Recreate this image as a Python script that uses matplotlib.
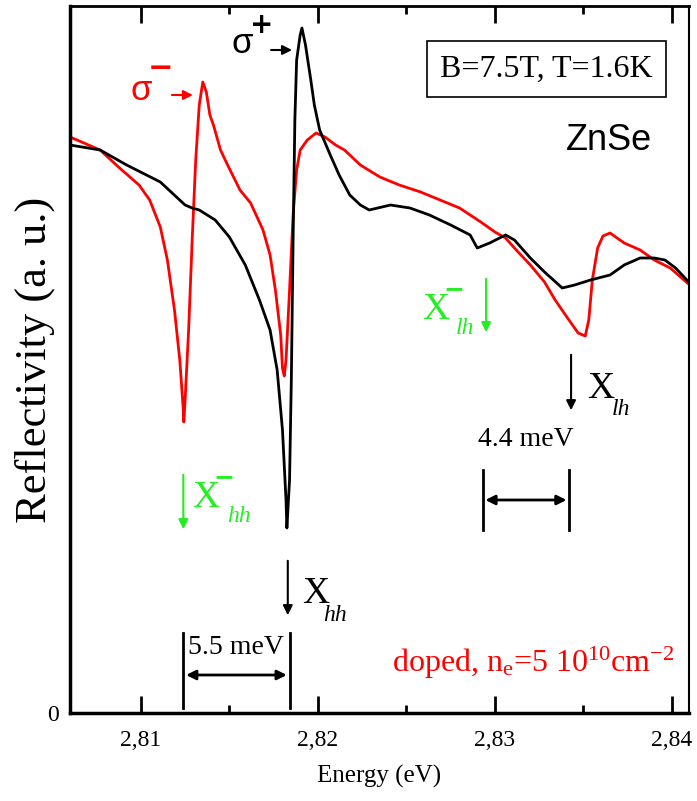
import matplotlib
matplotlib.use("Agg")
import matplotlib.pyplot as plt
from matplotlib.ticker import MultipleLocator

plt.rcParams["font.family"] = ["Liberation Serif", "DejaVu Serif"]
plt.rcParams["mathtext.fontset"] = "custom"
plt.rcParams["mathtext.rm"] = "Liberation Serif"
plt.rcParams["mathtext.it"] = "Liberation Serif:italic"

# sigma+ (black) spectrum, energy in eV, reflectivity in a.u.
e_plus = [2.8060, 2.8077, 2.8092, 2.8111, 2.8125, 2.8129, 2.8133, 2.8142, 2.8150,
          2.8159, 2.8167, 2.8173, 2.8177, 2.8180, 2.8182, 2.81825, 2.8184, 2.8185,
          2.8186, 2.8187, 2.8188, 2.8190, 2.8191, 2.8193, 2.8196, 2.8198, 2.8201,
          2.8207, 2.8212, 2.8218, 2.8224, 2.8229, 2.8241, 2.8252, 2.8263, 2.8275,
          2.8286, 2.8290, 2.8297, 2.8306, 2.8311, 2.8320, 2.8328, 2.8338, 2.8345,
          2.8354, 2.8365, 2.8373, 2.8382, 2.8390, 2.8396, 2.8402, 2.8410]
r_plus = [568, 563, 548, 531, 508, 505, 503, 493, 476,
          448, 413, 383, 343, 283, 213, 185, 233, 333,
          473, 593, 653, 678, 685, 668, 633, 608, 583,
          558, 538, 518, 508, 503, 508, 505, 498, 488,
          478, 465, 470, 478, 473, 455, 441, 425, 428,
          433, 438, 448, 455, 455, 453, 445, 430]

# sigma- (red) spectrum
e_minus = [2.8060, 2.8077, 2.8088, 2.8099, 2.8105, 2.8111, 2.8115, 2.8119, 2.8122,
           2.8124, 2.81243, 2.8125, 2.8127, 2.8129, 2.8131, 2.8133, 2.8135, 2.8137,
           2.8139, 2.8141, 2.8145, 2.8149, 2.8156, 2.8162, 2.8169, 2.8173, 2.8176,
           2.8179, 2.8180, 2.8181, 2.8182, 2.8184, 2.8186, 2.8188, 2.8190, 2.8194,
           2.8199, 2.8204, 2.8210, 2.8215, 2.8224, 2.8235, 2.8246, 2.8258, 2.8269,
           2.8280, 2.8292, 2.8300, 2.8306, 2.8311, 2.8320, 2.8328, 2.8334, 2.8341,
           2.8347, 2.8351, 2.8353, 2.8355, 2.8358, 2.8361, 2.8365, 2.8373, 2.8382,
           2.8390, 2.8399, 2.8410]
r_minus = [576, 563, 545, 528, 513, 486, 453, 403, 353,
           303, 291, 313, 383, 473, 553, 608, 631, 621,
           598, 588, 563, 548, 523, 510, 483, 458, 423,
           378, 345, 337, 353, 423, 498, 543, 563, 573,
           580, 576, 568, 563, 548, 536, 528, 521, 513,
           505, 491, 481, 475, 465, 448, 431, 413, 395,
           380, 377, 393, 433, 465, 477, 480, 470, 463,
           453, 445, 428]

xticks = [2.81, 2.82, 2.83, 2.84]
xtick_labels = ["2,81", "2,82", "2,83", "2,84"]

GREEN = "#22ee22"

fig = plt.figure(figsize=(6.97, 8.01), dpi=100)
ax = fig.add_axes([70 / 697, 1 - 713 / 801, 619 / 697, 707 / 801])

ax.plot(e_minus, r_minus, color="red", lw=2)
ax.plot(e_plus, r_plus, color="black", lw=2)

ax.set_xlim(2.8060, 2.84096)
ax.set_ylim(0, 707)
ax.set_xticks(xticks)
ax.set_xticklabels(xtick_labels)
ax.xaxis.set_minor_locator(MultipleLocator(0.005))
ax.tick_params(axis="x", which="major", direction="in", length=12, width=2,
               top=True, labelsize=17, pad=12)
ax.tick_params(axis="x", which="minor", direction="in", length=6, width=2, top=True)
ax.set_yticks([0])
ax.set_yticklabels(["0"])
ax.tick_params(axis="y", length=0, labelsize=17, pad=8)
for side, w in [("left", 2.5), ("bottom", 2.5), ("top", 2), ("right", 1.5)]:
    ax.spines[side].set_linewidth(w)

ax.set_xlabel("Energy (eV)", fontsize=18, labelpad=10)
ax.set_ylabel("Reflectivity (a. u.)", fontsize=32)
ax.yaxis.set_label_coords(-0.025, 0.5)

arrow_kw = dict(arrowstyle="-|>", lw=1.5, mutation_scale=14)

# sigma labels
ax.text(2.8094, 613, "σ", color="red", fontsize=25, family="Liberation Sans")
ax.text(2.8111, 644, "−", color="red", fontsize=22, fontweight="bold",
        family="DejaVu Sans", ha="center", va="center")
ax.annotate("", xy=(2.8131, 618), xytext=(2.8116, 618),
            arrowprops=dict(color="red", **arrow_kw))
ax.text(2.8151, 660, "σ", color="black", fontsize=25, family="Liberation Sans")
ax.text(2.8168, 688, "+", color="black", fontsize=20, fontweight="bold",
        family="DejaVu Sans", ha="center", va="center")
ax.annotate("", xy=(2.8187, 663), xytext=(2.8172, 663),
            arrowprops=dict(color="black", **arrow_kw))

# box and sample
ax.text(2.8329, 644, "B=7.5T, T=1.6K", fontsize=23, ha="center", va="center",
        bbox=dict(boxstyle="square,pad=0.42", fc="white", ec="black", lw=1.2))
ax.text(2.8340, 563, "ZnSe", fontsize=26, family="Liberation Sans")

# X_hh / X_lh (black)
ax.annotate("", xy=(2.8183, 95), xytext=(2.8183, 155),
            arrowprops=dict(color="black", **arrow_kw))
ax.text(2.8191, 110, "X", fontsize=27)
ax.text(2.8203, 92, "hh", fontsize=17, style="italic")
ax.annotate("", xy=(2.8343, 300), xytext=(2.8343, 361),
            arrowprops=dict(color="black", **arrow_kw))
ax.text(2.8352, 315, "X", fontsize=27)
ax.text(2.8366, 298, "lh", fontsize=17, style="italic")

# trions (green)
ax.annotate("", xy=(2.8124, 181), xytext=(2.8124, 241),
            arrowprops=dict(color=GREEN, **arrow_kw))
ax.text(2.8129, 206, "X", fontsize=27, color=GREEN)
ax.text(2.8147, 236, "−", fontsize=18, fontweight="bold", color=GREEN,
        family="DejaVu Sans", ha="center", va="center")
ax.text(2.8149, 191, "hh", fontsize=17, style="italic", color=GREEN)
ax.annotate("", xy=(2.8295, 378), xytext=(2.8295, 437),
            arrowprops=dict(color=GREEN, **arrow_kw))
ax.text(2.8259, 394, "X", fontsize=27, color=GREEN)
ax.text(2.8277, 424, "−", fontsize=18, fontweight="bold", color=GREEN,
        family="DejaVu Sans", ha="center", va="center")
ax.text(2.8278, 379, "lh", fontsize=17, style="italic", color=GREEN)

# splitting brackets
for x0, x1, y0, y1, ya, label, ly in [(2.8124, 2.8184, 5, 80, 38, "5.5 meV", 66),
                                      (2.8293, 2.8342, 183, 243, 213, "4.4 meV", 273)]:
    ax.plot([x0, x0], [y0, y1], color="black", lw=2)
    ax.plot([x1, x1], [y0, y1], color="black", lw=2)
    ax.annotate("", xy=(x1, ya), xytext=(x0, ya),
                arrowprops=dict(arrowstyle="<|-|>", color="black", lw=2, mutation_scale=14))
    ax.text((x0 + x1) / 2, ly, label, fontsize=20, ha="center", va="center")

ax.text(2.8242, 41, r"doped, n$_{\mathrm{e}}$=5 10$^{\mathrm{10}}$cm$^{\mathrm{-2}}$",
        fontsize=23, color="red")

fig.savefig("out.png", dpi=100)
